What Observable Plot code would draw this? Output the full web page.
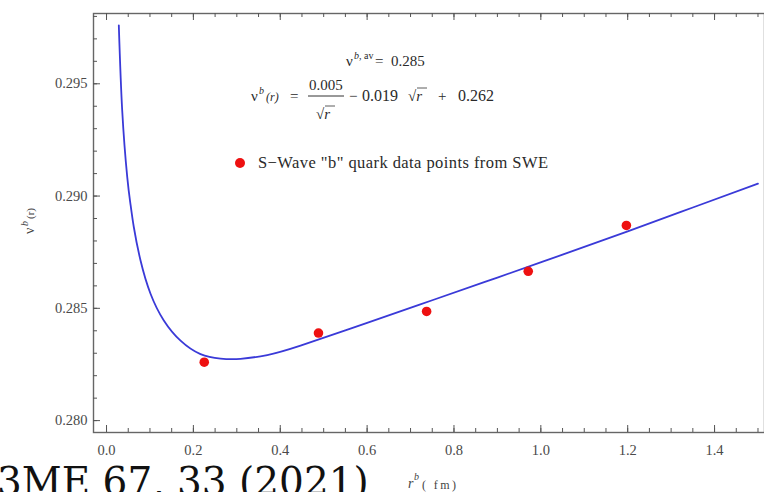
<!DOCTYPE html>
<html><head><meta charset="utf-8">
<script src="https://cdn.jsdelivr.net/npm/d3@7"></script>
<script src="https://cdn.jsdelivr.net/npm/@observablehq/plot@0.6"></script>
<style>
html,body{margin:0;padding:0;background:#fff;}
#wrap{position:relative;width:764px;height:492px;overflow:hidden;}
#wrap svg{position:absolute;left:0;top:0;}
</style></head><body><div id="wrap"></div>
<script>
// fitted curve
const curveR = [0.0283,0.0361,0.0477,0.0553,0.0629,0.0783,0.1013,0.1319,0.1704,0.2164,0.2625,0.3085,0.3700,0.4467,0.60,0.75,0.90,1.05,1.20,1.35,1.50];
const curveV = [0.29760,0.29381,0.29084,0.28962,0.28861,0.28713,0.28565,0.28446,0.28356,0.28296,0.28276,0.28275,0.28292,0.28334,0.28435,0.28536,0.28637,0.28739,0.28843,0.28949,0.29055];
// S-wave "b" quark data points
const pointR = [0.225,0.488,0.737,0.971,1.197];
const pointV = [0.2826,0.2839,0.28486,0.28665,0.28869];
// ticks
const xMajor = [0.0,0.2,0.4,0.6,0.8,1.0,1.2,1.4];
const xMinor = [0.0,0.05,0.1,0.15,0.2,0.25,0.3,0.35,0.4,0.45,0.5,0.55,0.6,0.65,0.7,0.75,0.8,0.85,0.9,0.95,1.0,1.05,1.1,1.15,1.2,1.25,1.3,1.35,1.4,1.45,1.5];
const yMajor = [0.280,0.285,0.290,0.295];
const yMinor = [0.280,0.281,0.282,0.283,0.284,0.285,0.286,0.287,0.288,0.289,0.290,0.291,0.292,0.293,0.294,0.295,0.296,0.297,0.298];

const curve = curveR.map((r,i)=>({r, v: curveV[i]}));
const points = pointR.map((r,i)=>({r, v: pointV[i]}));

const W=764,H=492,mL=93,mR=0,mT=13,mB=60;
const iw=W-mL-mR, ih=H-mT-mB;
const axisCol="#555";

const chart = Plot.plot({
  width:W,height:H,marginLeft:mL,marginRight:mR,marginTop:mT,marginBottom:mB,
  x:{domain:[-0.030,1.515]},
  y:{domain:[0.27947,0.29813]},
  style:{fontFamily:"'Liberation Serif','Times New Roman',serif",fontSize:"14.5px",color:"#4a4a4a",background:"transparent"},
  marks:[
    Plot.frame({stroke:"#666",strokeWidth:1.4}),
    Plot.tickX(xMinor,{x:d=>d,insetTop:ih-4,stroke:axisCol}),
    Plot.tickX(xMajor,{x:d=>d,insetTop:ih-7,stroke:axisCol}),
    Plot.tickX(xMinor,{x:d=>d,insetBottom:ih-4,stroke:axisCol}),
    Plot.tickX(xMajor,{x:d=>d,insetBottom:ih-7,stroke:axisCol}),
    Plot.tickY(yMinor,{y:d=>d,insetRight:iw-4,stroke:axisCol}),
    Plot.tickY(yMajor,{y:d=>d,insetRight:iw-7,stroke:axisCol}),
    Plot.axisX(xMajor,{tickSize:0,tickPadding:12,tickFormat:d3.format(".1f"),label:null}),
    Plot.axisY(yMajor,{tickSize:0,tickPadding:6,tickFormat:d3.format(".3f"),label:null}),
    Plot.line(curve,{x:"r",y:"v",stroke:"#3a3ad8",strokeWidth:1.8,curve:"natural"}),
    Plot.dot(points,{x:"r",y:"v",r:4.8,fill:"#ee1111",stroke:"none"})
  ]
});
document.getElementById("wrap").appendChild(chart);

// annotations overlay
const ov = `<svg width="764" height="492" xmlns="http://www.w3.org/2000/svg" style="font-family:'Liberation Serif','Times New Roman',serif;fill:#2a2a2a">
  <text x="346" y="66" font-size="15">ν</text>
  <text x="354" y="59" font-size="10"><tspan font-style="italic">b</tspan>, av</text>
  <text x="375" y="66" font-size="15">=</text>
  <text x="391" y="66" font-size="15">0.285</text>

  <text x="251" y="101" font-size="15">ν</text>
  <text x="259" y="94" font-size="10" font-style="italic">b</text>
  <text x="266" y="101" font-size="12" font-style="italic">(r)</text>
  <text x="290" y="101" font-size="15">=</text>
  <text x="309" y="90" font-size="15">0.005</text>
  <line x1="308" y1="96" x2="344" y2="96" stroke="#333" stroke-width="1"/>
  <text x="316" y="119" font-size="15">√<tspan font-style="italic">r</tspan></text>
  <line x1="325" y1="106" x2="335" y2="106" stroke="#333" stroke-width="0.8"/>
  <text x="349" y="101" font-size="15">−</text>
  <text x="362" y="101" font-size="16">0.019</text>
  <text x="408" y="101" font-size="15">√<tspan font-style="italic">r</tspan></text>
  <line x1="417" y1="88" x2="427" y2="88" stroke="#333" stroke-width="0.8"/>
  <text x="438" y="101" font-size="15">+</text>
  <text x="458" y="101" font-size="16">0.262</text>

  <circle cx="240" cy="163" r="5" fill="#ee1111"/>
  <text x="258" y="168" font-size="16.5" textLength="290" lengthAdjust="spacing">S−Wave "b" quark data points  from SWE</text>

  <g transform="translate(34,216) rotate(-90)" fill="#444">
    <text x="-18" y="0" font-size="14">ν</text>
    <text x="-10" y="-6" font-size="10" font-style="italic">b</text>
    <text x="-3" y="0" font-size="11">(r)</text>
  </g>
  <text x="408" y="488" font-size="14" fill="#444" font-style="italic">r</text>
  <text x="414" y="480" font-size="10" fill="#444" font-style="italic">b</text>
  <text x="422" y="489" font-size="12" fill="#444" textLength="34" lengthAdjust="spacing">( fm)</text>
  <text x="-3" y="495" font-size="39" fill="#111" style="font-family:'DejaVu Serif',serif">3ME 67, 33 (2021)</text>
</svg>`;
document.getElementById("wrap").insertAdjacentHTML("beforeend", ov);
</script></body></html>
